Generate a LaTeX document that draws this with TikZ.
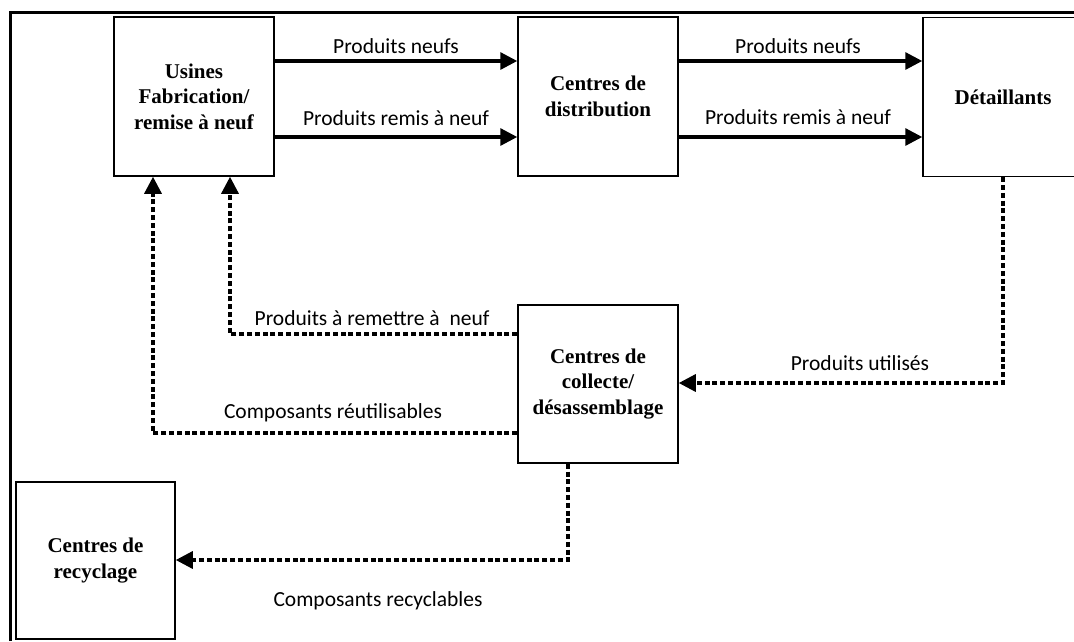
\documentclass[tikz,border=0pt]{standalone}
\usepackage{fontspec}
\setmainfont{Liberation Serif}
\newfontfamily\labelfont{Carlito}
\usetikzlibrary{arrows.meta}

\begin{document}
\begin{tikzpicture}[x=1pt,y=-1pt,
  box/.style={draw, line width=1.5pt, rectangle, inner sep=0pt, align=center,
    minimum width=160pt, minimum height=159pt,
    font=\bfseries\fontsize{21}{25.5}\selectfont},
  lab/.style={inner sep=0pt, font=\labelfont\fontsize{21.5}{24}\selectfont},
  flow/.style={line width=3.2pt, -{Triangle[length=17pt,width=17pt]}},
  backflow/.style={line width=3.2pt, dash pattern=on 5pt off 2.8pt,
    -{Triangle[length=17pt,width=17pt]}}
]
\useasboundingbox (0,0) rectangle (1074,641);

% page frame
\draw[line width=3pt] (10.5,641) -- (10.5,12.5) -- (1074,12.5);

% facilities
\node[box] (usines) at (194,96.5) {Usines\\Fabrication/\\remise à neuf};
\node[box] (distrib) at (598,96.5) {Centres de\\distribution};
\node[box] (det) at (1003,97) {Détaillants};
\node[box, minimum height=158pt] (coll) at (598,384) {Centres de\\collecte/\\désassemblage};
\node[box, minimum width=159pt, minimum height=157pt] (recyc) at (95.5,560.5) {Centres de\\recyclage};

% row and column helpers
\coordinate (rowA) at (0,61);
\coordinate (rowB) at (0,137);
\coordinate (rowUsed) at (0,383);
\coordinate (rowRefurb) at (0,334);
\coordinate (rowReuse) at (0,433);
\coordinate (rowRecyc) at (0,560);
\coordinate (colRefurb) at (230,0);
\coordinate (colReuse) at (153,0);
\coordinate (colRecyc) at (568,0);

% forward flows
\draw[flow] (usines.east |- rowA) -- (distrib.west |- rowA);
\draw[flow] (usines.east |- rowB) -- (distrib.west |- rowB);
\draw[flow] (distrib.east |- rowA) -- (det.west |- rowA);
\draw[flow] (distrib.east |- rowB) -- (det.west |- rowB);

% reverse flows
\draw[backflow] (det.south) |- (coll.east |- rowUsed);
\draw[backflow] (coll.west |- rowRefurb) -| (usines.south -| colRefurb);
\draw[backflow] (coll.west |- rowReuse) -| (usines.south -| colReuse);
\draw[backflow] (coll.south -| colRecyc) |- (recyc.east |- rowRecyc);

% flow labels
\node[lab] (l1) at (396,46) {Produits neufs};
\node[lab] (l2) at (396,118) {Produits remis à neuf};
\node[lab] (l3) at (798,46) {Produits neufs};
\node[lab] (l4) at (798,117) {Produits remis à neuf};
\node[lab] (l5) at (860,363) {Produits utilisés};
\node[lab] (l6) at (372,318) {Produits à remettre à\ \ neuf};
\node[lab] (l7) at (333,413) {Composants réutilisables};
\node[lab] (l8) at (378,601) {Composants recyclables};
\end{tikzpicture}
\end{document}
